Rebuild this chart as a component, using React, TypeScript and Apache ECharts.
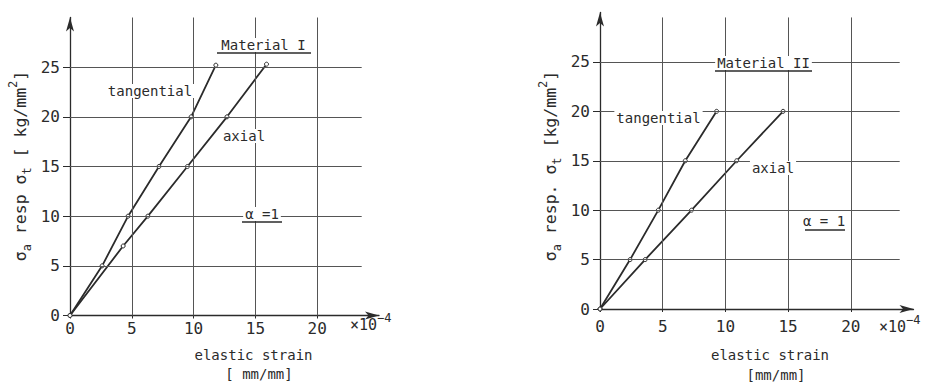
import React, { useEffect, useRef } from 'react';
import * as echarts from 'echarts';

// Axis ticks
const xTickValues = [0, 5, 10, 15, 20];
const yTickValues = [0, 5, 10, 15, 20, 25];
const gridXValues = [5, 10, 15, 20];
const gridYValues = [5, 10, 15, 20, 25];

// Material I (strain in 1e-4 mm/mm, stress in kg/mm2)
const m1TangentialStrain = [0, 2.6, 4.7, 7.2, 9.8, 11.8];
const m1TangentialStress = [0, 5, 10, 15, 20, 25.2];
const m1AxialStrain = [0, 4.3, 6.3, 9.5, 12.7, 15.9];
const m1AxialStress = [0, 7, 10, 15, 20, 25.3];

// Material II
const m2TangentialStrain = [0, 2.4, 4.65, 6.8, 9.3];
const m2TangentialStress = [0, 5, 10, 15, 20];
const m2AxialStrain = [0, 3.6, 7.3, 10.9, 14.6];
const m2AxialStress = [0, 5, 10, 15, 20];

const FONT = '"DejaVu Sans Mono", "Liberation Mono", monospace';
const INK = '#2b2b2b';
const GRID = '#555';

const zip = (xs: number[], ys: number[]) => xs.map((x, i) => [x, ys[i]]);

function gridLines(xEnd: number, yEnd: number) {
  const h = gridYValues.map((y) => [{ coord: [0, y] }, { coord: [xEnd, y] }]);
  const v = gridXValues.map((x) => [{ coord: [x, 0] }, { coord: [x, yEnd] }]);
  return [...h, ...v];
}

function makeXAxis(gridIndex: number, margin: number) {
  return {
    type: 'value',
    gridIndex,
    min: 0,
    max: 25,
    interval: 5,
    axisLine: {
      show: true,
      symbol: ['none', 'arrow'],
      symbolSize: [6, 14],
      lineStyle: { color: INK, width: 1.3 },
    },
    axisTick: { show: true, length: 3, customValues: xTickValues, lineStyle: { color: INK, width: 1 } },
    axisLabel: {
      customValues: xTickValues,
      margin,
      fontSize: 16,
      color: INK,
      fontFamily: FONT,
    },
    splitLine: { show: false },
  };
}

function makeYAxis(gridIndex: number) {
  return {
    type: 'value',
    gridIndex,
    min: 0,
    max: 30,
    interval: 5,
    axisLine: {
      show: true,
      onZero: false,
      symbol: ['none', 'arrow'],
      symbolSize: [6, 14],
      lineStyle: { color: INK, width: 1.3 },
    },
    axisTick: { show: true, length: 7, customValues: yTickValues, lineStyle: { color: INK, width: 1 } },
    axisLabel: {
      customValues: yTickValues,
      margin: 10,
      fontSize: 16,
      color: INK,
      fontFamily: FONT,
    },
    splitLine: { show: false },
  };
}

function dataSeries(idx: number, xs: number[], ys: number[]) {
  return {
    type: 'line',
    xAxisIndex: idx,
    yAxisIndex: idx,
    data: zip(xs, ys),
    symbol: 'circle',
    symbolSize: 4,
    showSymbol: true,
    z: 3,
    itemStyle: { color: '#fff', borderColor: INK, borderWidth: 1 },
    lineStyle: { color: INK, width: 1.8 },
    silent: true,
  };
}

function gridSeries(idx: number, xEnd: number, yEnd: number) {
  return {
    type: 'line',
    xAxisIndex: idx,
    yAxisIndex: idx,
    data: [[0, 0]],
    showSymbol: false,
    symbol: 'none',
    z: 1,
    lineStyle: { width: 0 },
    markLine: {
      silent: true,
      symbol: ['none', 'none'],
      label: { show: false },
      lineStyle: { color: GRID, width: 1, type: 'solid' },
      data: gridLines(xEnd, yEnd),
    },
  };
}

const textStyleBase = {
  fontFamily: FONT,
  fill: INK,
  align: 'center',
  verticalAlign: 'middle',
};

function label(text: string, x: number, y: number, size = 14, bg = true) {
  return {
    type: 'text',
    x,
    y,
    z: 10,
    style: {
      ...textStyleBase,
      text,
      fontSize: size,
      backgroundColor: bg ? '#fff' : 'transparent',
      padding: [0, 2],
    },
  };
}

function underline(x1: number, x2: number, y: number) {
  return {
    type: 'line',
    z: 11,
    shape: { x1, y1: y, x2, y2: y },
    style: { stroke: INK, lineWidth: 1.3 },
  };
}

function yTitle(x: number, y: number, text: string) {
  return {
    type: 'text',
    x,
    y,
    rotation: Math.PI / 2,
    z: 10,
    style: {
      text,
      fontFamily: FONT,
      fontSize: 16.5,
      fill: INK,
      align: 'center',
      verticalAlign: 'middle',
      rich: {
        m: { fontFamily: FONT, fontSize: 16.5, fill: INK, lineHeight: 26 },
        sub: { fontFamily: FONT, fontSize: 12, fill: INK, verticalAlign: 'bottom', lineHeight: 26 },
        sup: { fontFamily: FONT, fontSize: 12, fill: INK, verticalAlign: 'top', lineHeight: 26 },
      },
    },
  };
}

function expLabel(x: number, y: number) {
  return {
    type: 'text',
    x,
    y,
    z: 10,
    style: {
      text: '{m|×10}{sup|−4}',
      fontFamily: FONT,
      fill: INK,
      align: 'left',
      verticalAlign: 'middle',
      rich: {
        m: { fontFamily: FONT, fontSize: 15, fill: INK, lineHeight: 26 },
        sup: { fontFamily: FONT, fontSize: 12, fill: INK, verticalAlign: 'top', lineHeight: 26 },
      },
    },
  };
}

export default function App() {
  const ref = useRef<HTMLDivElement>(null);

  useEffect(() => {
    if (!ref.current) return;
    const chart = echarts.init(ref.current, null, { renderer: 'svg' });
    const option = {
      animation: false,
      backgroundColor: '#ffffff',
      grid: [
        { left: 70, top: 17.5, width: 309, height: 298 },
        { left: 600, top: 12.5, width: 313.5, height: 296.5 },
      ],
      xAxis: [makeXAxis(0, 5), makeXAxis(1, 9)],
      yAxis: [makeYAxis(0), makeYAxis(1)],
      series: [
        gridSeries(0, 23.6, 30),
        gridSeries(1, 23.9, 29.5),
        dataSeries(0, m1TangentialStrain, m1TangentialStress),
        dataSeries(0, m1AxialStrain, m1AxialStress),
        dataSeries(1, m2TangentialStrain, m2TangentialStress),
        dataSeries(1, m2AxialStrain, m2AxialStress),
      ],
      graphic: [
        // left chart annotations
        label('Material I', 263.5, 45, 14),
        underline(217, 311, 53),
        label('tangential', 150, 91, 14),
        label('axial', 244, 136, 14),
        label('α =1', 262, 214, 14),
        underline(242, 282, 222),
        yTitle(20, 166, '{m|σ}{sub|a}{m| resp σ}{sub|t}{m| [ kg/mm}{sup|2}{m|]}'),
        label('elastic strain', 253.5, 355, 14, false),
        label('[ mm/mm]', 259, 374, 14, false),
        expLabel(350, 325),
        // right chart annotations
        label('Material II', 763.5, 63, 14),
        underline(715, 812, 71),
        label('tangential', 658.5, 118, 14),
        label('axial', 773, 168, 14),
        label('α = 1', 824, 221, 14),
        underline(805, 845, 230),
        yTitle(550, 166, '{m|σ}{sub|a}{m| resp. σ}{sub|t}{m| [kg/mm}{sup|2}{m|]}'),
        label('elastic strain', 770, 355, 14, false),
        label('[mm/mm]', 776, 375, 14, false),
        expLabel(879, 327),
      ],
    };
    chart.setOption(option as any);
    return () => chart.dispose();
  }, []);

  return (
    <div
      ref={ref}
      style={{ position: 'absolute', left: 0, top: 0, width: 941, height: 386, background: '#fff' }}
    />
  );
}
